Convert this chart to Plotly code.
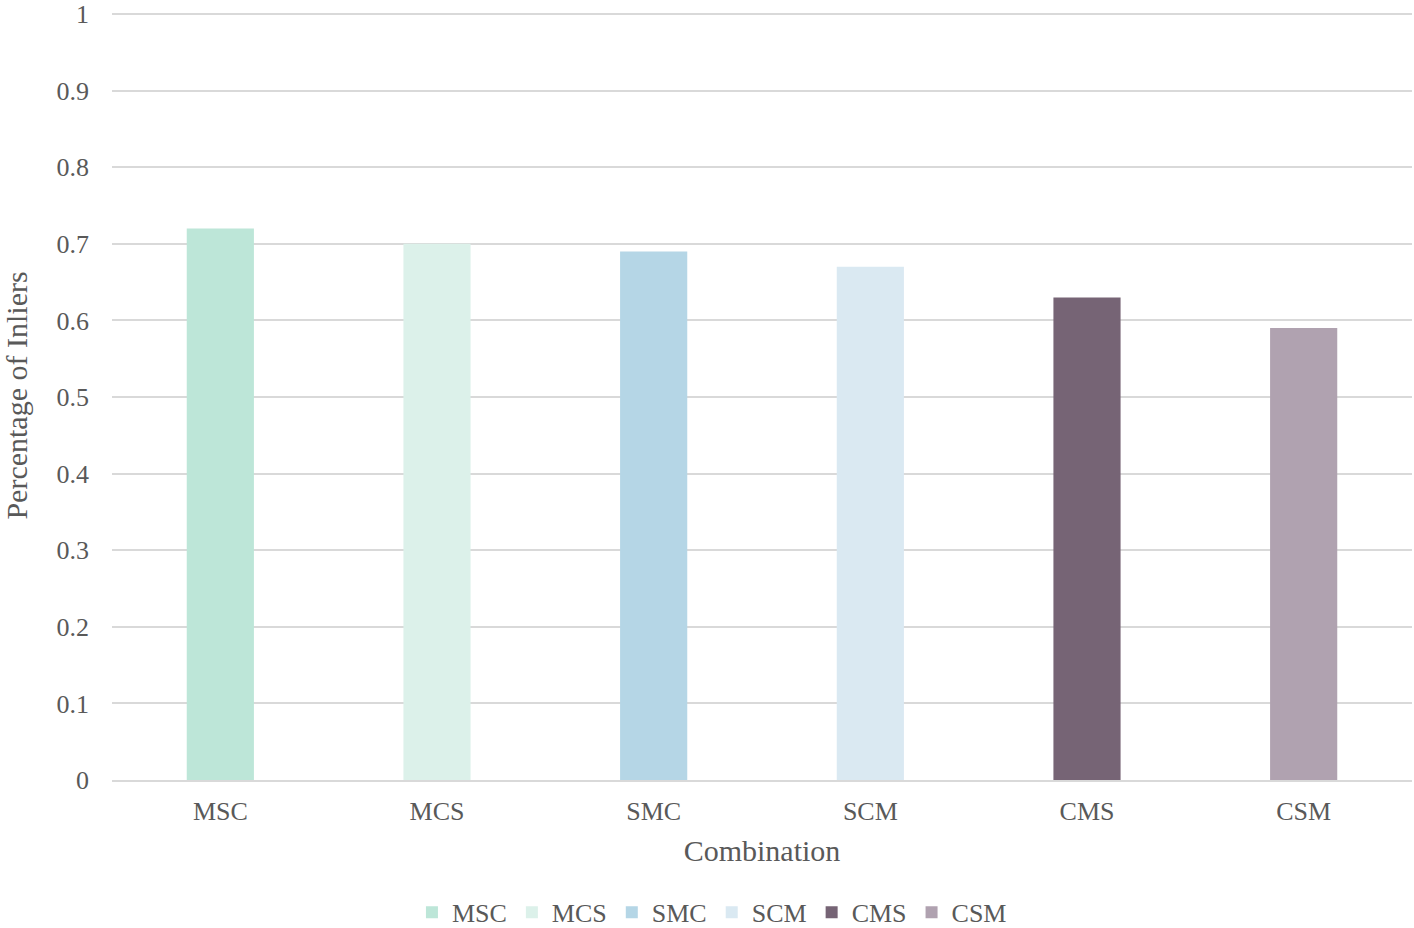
import plotly.graph_objects as go

categories = ["MSC", "MCS", "SMC", "SCM", "CMS", "CSM"]
values = [0.72, 0.70, 0.69, 0.67, 0.63, 0.59]
colors = ["#BDE6D8", "#DCF1EA", "#B5D6E6", "#DAE9F2", "#766475", "#B0A2B0"]
y_ticks = [0, 0.1, 0.2, 0.3, 0.4, 0.5, 0.6, 0.7, 0.8, 0.9, 1]
y_labels = ["0", "0.1", "0.2", "0.3", "0.4", "0.5", "0.6", "0.7", "0.8", "0.9", "1"]

ff = "Liberation Serif"
txt = "#595959"

fig = go.Figure()
for c, v, col in zip(categories, values, colors):
    fig.add_trace(go.Bar(x=[c], y=[v], name=c, marker_color=col, width=0.31,
                         marker_line_width=0))

fig.update_layout(
    width=1414, height=928, autosize=False,
    margin=dict(l=112, r=2, t=11, b=148, autoexpand=False),
    plot_bgcolor="white", paper_bgcolor="white",
    barmode="overlay",
    font=dict(family=ff, color=txt, size=26),
    legend=dict(orientation="h", x=0.4615, xanchor="center", y=-0.172, yanchor="middle",
                font=dict(family=ff, size=26, color=txt), itemwidth=30,
                traceorder="normal"),
    xaxis=dict(categoryorder="array", categoryarray=categories,
               tickfont=dict(family=ff, size=26, color=txt),
               title=dict(text="Combination", font=dict(family=ff, size=30, color=txt), standoff=15),
               showline=True, linecolor="#d9d9d9", linewidth=2, ticks="",
               ticklabelstandoff=7, automargin=False),
    yaxis=dict(range=[0, 1.004], tickvals=y_ticks, ticktext=y_labels,
               tickfont=dict(family=ff, size=26, color=txt),
               title=dict(text="Percentage of Inliers", font=dict(family=ff, size=30, color=txt), standoff=26),
               showgrid=True, gridcolor="#d9d9d9", gridwidth=2, zeroline=False, ticks="",
               ticklabelstandoff=22, automargin=False),
)

fig.write_html("out.html", config={"displayModeBar": False},
               post_script="document.body.style.margin='0px';")
